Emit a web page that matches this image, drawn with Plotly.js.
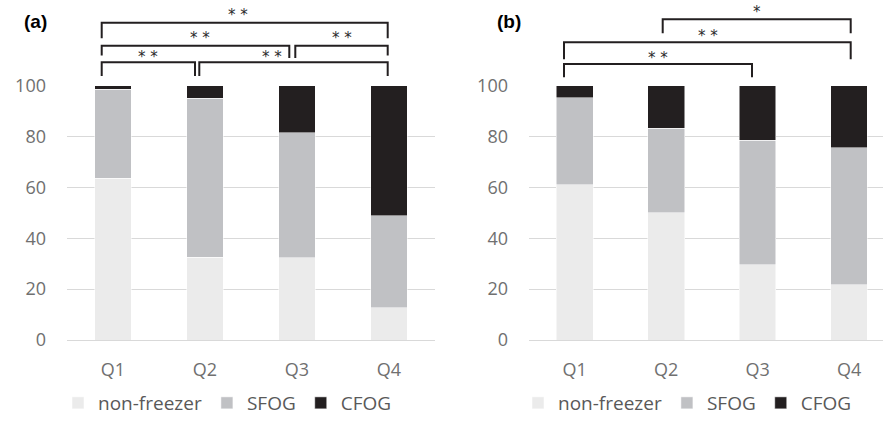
<!DOCTYPE html>
<html>
<head>
<meta charset="utf-8">
<script src="https://cdn.plot.ly/plotly-3.0.1.min.js"></script>
<style>
  html, body { margin: 0; padding: 0; background: #ffffff; }
  #chart { width: 883px; height: 422px; }
</style>
</head>
<body>
<div id="chart"></div>
<script>
// ---------------- data ----------------
const categories = ['Q1', 'Q2', 'Q3', 'Q4'];
const seriesNames = ['non-freezer', 'SFOG', 'CFOG'];

// panel (a)
const nonFreezerA = [63.6, 32.5, 32.3, 12.7];
const sfogA       = [34.9, 62.4, 49.2, 36.1];
const cfogA       = [1.5, 5.1, 18.5, 51.2];

// panel (b)
const nonFreezerB = [61.0, 50.0, 29.5, 21.7];
const sfogB       = [34.1, 33.3, 49.0, 53.9];
const cfogB       = [4.9, 16.7, 21.5, 24.4];

// significance comparisons: [from, to, label]
const compA = [['Q1','Q2','**'], ['Q2','Q4','**'], ['Q1','Q3','**'], ['Q3','Q4','**'], ['Q1','Q4','**']];
const compB = [['Q1','Q3','**'], ['Q1','Q4','**'], ['Q2','Q4','*']];

// ---------------- style ----------------
const W = 883, H = 422;
const colors = ['#ebebeb', '#c0c1c4', '#231f20'];
const fontFamily = '"Open Sans", "Noto Sans", sans-serif';
const tickColor = '#707070';

const plotTop = 85.5, plotBottom = 340;
const ax = [67, 435];       // panel a plot pixels
const bx = [529, 883];      // panel b plot pixels

function px(x) { return x / W; }
function py(y) { return 1 - y / H; }

// bracket geometry in pixels for each comparison (x1, x2, top, leftLegEnd, rightLegEnd, labelX, labelY)
const geomA = [
  [101.7, 195.0, 62.3, 76.0, 76.0, 148.0, 57.0],
  [199.3, 387.7, 62.3, 76.0, 76.0, 271.7, 57.0],
  [101.7, 289.3, 45.7, 55.5, 58.0, 200.0, 38.5],
  [295.3, 387.7, 45.7, 58.0, 55.5, 341.7, 38.5],
  [101.7, 387.7, 22.7, 38.3, 38.3, 238.3, 15.0]
];
const geomB = [
  [564.0, 752.0, 64.0, 77.3, 77.3, 658.3, 58.0],
  [564.0, 850.7, 42.3, 59.3, 59.3, 708.3, 36.0],
  [662.7, 850.7, 19.3, 33.3, 33.3, 756.7, 12.0]
];

// ---------------- traces ----------------
function makeTraces(vals, xaxis, yaxis, legend) {
  return vals.map((v, i) => ({
    type: 'bar',
    name: seriesNames[i],
    x: categories,
    y: v,
    xaxis: xaxis,
    yaxis: yaxis,
    legend: legend,
    width: 0.4,
    marker: { color: colors[i], line: { color: '#ffffff', width: 0.5 } },
    hoverinfo: 'x+y+name'
  }));
}

const traces = [
  ...makeTraces([nonFreezerA, sfogA, cfogA], 'x', 'y', 'legend'),
  ...makeTraces([nonFreezerB, sfogB, cfogB], 'x2', 'y2', 'legend2')
];

// ---------------- shapes & annotations ----------------
const shapes = [];
const annotations = [];
function addBrackets(comps, geom) {
  comps.forEach((c, i) => {
    const g = geom[i];
    shapes.push({
      type: 'path', xref: 'paper', yref: 'paper',
      path: `M${px(g[0])},${py(g[3])} L${px(g[0])},${py(g[2])} L${px(g[1])},${py(g[2])} L${px(g[1])},${py(g[4])}`,
      line: { color: '#231f20', width: 2 }
    });
    annotations.push({
      xref: 'paper', yref: 'paper', x: px(g[5]), y: py(g[6]),
      xanchor: 'center', yanchor: 'middle', showarrow: false,
      text: c[2].split('').join(' '),
      font: { family: '"DejaVu Sans", sans-serif', size: 15, color: '#2b2b2b' }
    });
  });
}
addBrackets(compA, geomA);
addBrackets(compB, geomB);

annotations.push({
  xref: 'paper', yref: 'paper', x: px(35), y: py(22), xanchor: 'center', yanchor: 'middle',
  showarrow: false, text: '<b>(a)</b>', font: { family: '"Liberation Sans", Arial, sans-serif', size: 19, color: '#000000' }
});
annotations.push({
  xref: 'paper', yref: 'paper', x: px(509), y: py(22), xanchor: 'center', yanchor: 'middle',
  showarrow: false, text: '<b>(b)</b>', font: { family: '"Liberation Sans", Arial, sans-serif', size: 19, color: '#000000' }
});

// ---------------- layout ----------------
const yCommon = {
  range: [0, 100],
  dtick: 20,
  showgrid: true,
  gridcolor: '#d9d9d9',
  gridwidth: 1,
  zeroline: true,
  zerolinecolor: '#d9d9d9',
  zerolinewidth: 1,
  showline: false,
  ticks: '',
  ticklabelstandoff: 20,
  tickfont: { family: fontFamily, size: 18, color: tickColor },
  fixedrange: true,
  domain: [py(plotBottom), py(plotTop)]
};
const xCommon = {
  type: 'category',
  showgrid: false,
  zeroline: false,
  showline: false,
  ticks: '',
  ticklabelstandoff: 17,
  tickfont: { family: fontFamily, size: 18, color: tickColor },
  fixedrange: true
};

const legendCommon = {
  orientation: 'h',
  yanchor: 'bottom',
  y: 0,
  xanchor: 'left',
  font: { family: fontFamily, size: 19, color: '#595959' },
  bgcolor: 'rgba(0,0,0,0)',
  borderwidth: 0,
  traceorder: 'normal'
};

const layout = {
  width: W, height: H,
  margin: { l: 0, r: 0, t: 0, b: 0, pad: 0, autoexpand: false },
  paper_bgcolor: '#ffffff',
  plot_bgcolor: '#ffffff',
  barmode: 'stack',
  showlegend: true,
  xaxis: Object.assign({}, xCommon, { domain: [px(ax[0]), px(ax[1])], anchor: 'y', range: [-0.5, 3.5] }),
  yaxis: Object.assign({}, yCommon, { anchor: 'x' }),
  xaxis2: Object.assign({}, xCommon, { domain: [px(bx[0]), 1], anchor: 'y2', range: [-0.5, 3.37] }),
  yaxis2: Object.assign({}, yCommon, { anchor: 'x2' }),
  legend: Object.assign({}, legendCommon, { x: px(58) }),
  legend2: Object.assign({}, legendCommon, { x: px(518) }),
  shapes: shapes,
  annotations: annotations
};

Plotly.newPlot('chart', traces, layout, { displayModeBar: false, staticPlot: true });
</script>
</body>
</html>
